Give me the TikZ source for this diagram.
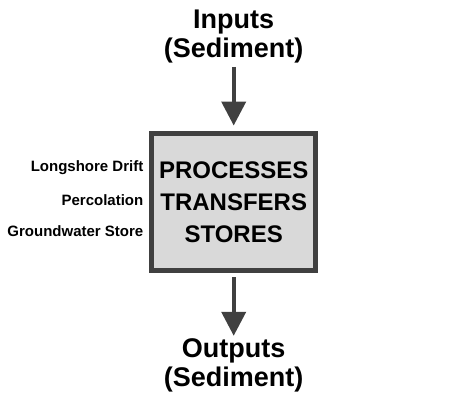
\documentclass[tikz,border=0pt]{standalone}
\usepackage{fontspec}
\setmainfont{Liberation Sans}
\usetikzlibrary{arrows.meta}
\usetikzlibrary{positioning}
\definecolor{boxfill}{RGB}{217,217,217}
\definecolor{edgegray}{RGB}{64,64,64}

\begin{document}
\begin{tikzpicture}[x=1pt,y=-1pt,
    flowlabel/.style={align=center, inner sep=0pt, font=\fontsize{27}{29}\selectfont\bfseries},
    sidelabel/.style={inner sep=0pt, anchor=base east, font=\fontsize{15}{18}\selectfont\bfseries},
    flowarrow/.style={draw=edgegray, line width=4pt, -{Triangle[width=24pt,length=24pt]}}]
    \useasboundingbox (0,0) rectangle (454,416);
    % System box with inputs and outputs
    \node[draw=edgegray, line width=5pt, fill=boxfill, minimum width=164.3pt, minimum height=137.3pt,
          align=center, inner sep=0pt, font=\fontsize{24}{32}\selectfont\bfseries] (proc) at (233.7,202)
          {PROCESSES\\TRANSFERS\\STORES};
    \node[flowlabel, anchor=north] (inputs) at (233.7,9.4) {Inputs\\(Sediment)};
    \node[flowlabel, anchor=north] (outputs) at (233.7,338.8) {Outputs\\(Sediment)};

    \node[sidelabel] (drift) at (143.5,171.7) {Longshore Drift};
    \node[sidelabel] (perc) at (143.5,205) {Percolation};
    \node[sidelabel] (store) at (143.5,236.7) {Groundwater Store};

    \draw[flowarrow, shorten <=4pt, shorten >=5.3pt] (inputs) -- (proc);
    \draw[flowarrow, shorten <=4.3pt, shorten >=3pt] (proc) -- (outputs);
\end{tikzpicture}
\end{document}
